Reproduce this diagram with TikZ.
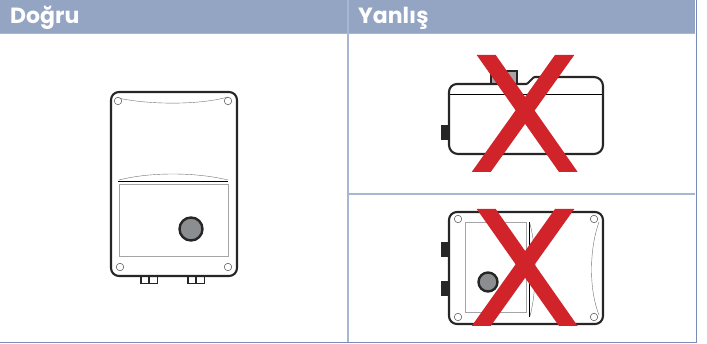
\documentclass[tikz,border=0pt]{standalone}
\usepackage{fontspec}
\setmainfont{Poppins}
\usetikzlibrary{positioning}
\definecolor{HeadBlue}{RGB}{148,165,196}
\definecolor{RuleBlue}{RGB}{168,182,210}
\definecolor{EdgeBlue}{RGB}{118,140,186}
\definecolor{CrossRed}{RGB}{209,35,42}
\definecolor{KnobGrey}{RGB}{140,141,145}
\definecolor{LineGrey}{RGB}{165,165,165}
\begin{document}
\begin{tikzpicture}[x=1pt,y=-1pt,
        head/.style={font=\bfseries\fontsize{22}{22}\selectfont,text=white,anchor=base west,inner sep=0pt},
        rule/.style={draw=RuleBlue,line width=1.6pt},
        edge/.style={draw=EdgeBlue,line width=1pt},
        body/.style={draw=black!85,line width=2.1pt,rounded corners=8pt,fill=white},
        hairline/.style={draw=black!55,line width=0.4pt},
        hole/.style={circle,draw=black!70,line width=0.5pt,fill=white,minimum size=7.5pt,inner sep=0pt},
        knob/.style={circle,draw=black!85,line width=2.4pt,fill=KnobGrey,minimum size=23pt,inner sep=0pt},
        lug/.style={draw=black!85,fill=black!85},
        cross/.style={fill=CrossRed}
      ]
        \useasboundingbox (0,0) rectangle (707,344);
        % table
        \fill[HeadBlue] (0,0) rectangle (695,33);
        \node[head] (ok) at (10,24) {Doğru};
        \node[head] (bad) at (358,24) {Yanlış};
        \draw[rule] (0,33.5) -- (695,33.5);
        \draw[rule] (348,0) -- (348,342);
        \draw[rule] (348,194) -- (695,194);
        \draw[edge] (0,342.5) -- (696,342.5);
        \draw[edge] (696,0) -- (696,343);
        % good unit
        \foreach \xa in {141,188}{
          \draw[black!85,line width=1.1pt,fill=white] (\xa,274) rectangle ++(16.5,9.5);
          \draw[black!85,line width=1.1pt] (\xa+8,274) -- ++(0,9.5);
        }
        \draw[body] (111,92) rectangle (237,276);
        \draw[hairline] (118,98) .. controls (150,105) and (200,105) .. (228,97);
        \draw[hairline] (119,180) .. controls (150,172) and (195,172) .. (228,180);
        \draw[black,line width=0.7pt] (118,181) -- (228,181);
        \draw[LineGrey,line width=1pt] (119.5,184.5) rectangle (228,257);
        \node[hole] (g1) at (118,101) {};
        \node[hole] (g2) at (228,101) {};
        \node[hole] (g3) at (120,267) {};
        \node[hole] (g4) at (228,267) {};
        \node[knob] (k1) at (191,229) {};
        % top view
        \draw[lug,fill=LineGrey,line width=1.3pt] (491,71) rectangle (517,84);
        \draw[lug] (441,125) rectangle (449,139);
        \draw[body] (449,154) -- (449,84) [rounded corners=1pt] -- (527,84) -- (534,77)
          [rounded corners=9pt] -- (603,77) -- (603,154) -- cycle;
        \draw[black,line width=0.7pt] (450,94) -- (602,94);
        % wrong bottom
        \draw[lug] (441,242) rectangle (449,256);
        \draw[lug] (441,281) rectangle (449,295);
        \draw[body] (449,212) rectangle (603,324);
        \draw[LineGrey,line width=1pt] (465,222.5) rectangle (526,313);
        \draw[black,line width=0.7pt] (529,222) -- (529,317);
        \draw[hairline] (530,224) .. controls (537,250) and (537,290) .. (530,316);
        \draw[hairline] (599,222) .. controls (589,250) and (589,290) .. (599,315);
        \node[hole] (b1) at (458,219) {};
        \node[hole] (b2) at (594,219) {};
        \node[hole] (b3) at (458,317) {};
        \node[hole] (b4) at (594,317) {};
        \node[knob,minimum size=19pt] (k2) at (488,282) {};
        % red crosses
        \foreach \ya in {55,209}{
          \fill[cross] (476.7,\ya) -- (495.7,\ya) -- (577.7,\ya+117) -- (559,\ya+117) -- cycle;
          \fill[cross] (555,\ya) -- (574.3,\ya) -- (490.7,\ya+117) -- (471.7,\ya+117) -- cycle;
        }
      \end{tikzpicture}
\end{document}
